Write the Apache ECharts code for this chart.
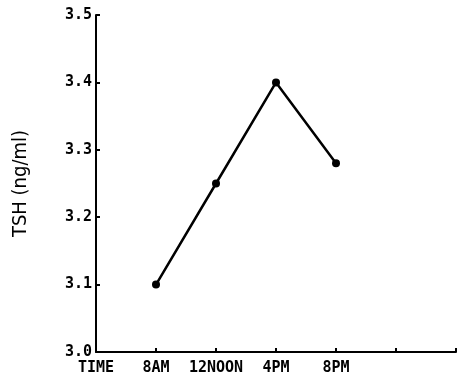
<!DOCTYPE html>
<html>
<head>
<meta charset="utf-8">
<script src="https://cdn.jsdelivr.net/npm/echarts@6/dist/echarts.min.js"></script>
<style>
	html, body { margin: 0; padding: 0; background: #fff; }
	#chart { width: 459px; height: 384px; }
</style>
</head>
<body>
<div id="chart"></div>
<script>
// time points along the x axis (first is the axis title, last two are empty slots)
var timeLabels = ["TIME", "8AM", "12NOON", "4PM", "8PM", "", ""];
// TSH values, "-" = no point
var tshValues = ["-", 3.10, 3.25, 3.40, 3.28, "-", "-"];
var yMin = 3.0;
var yMax = 3.5;
var yStep = 0.1;

var myChart = echarts.init(document.getElementById("chart"));
var labelFont = {
	color: "#000",
	fontFamily: "DejaVu Sans Mono",
	fontWeight: "bold",
	fontSize: 15,
};
var option = {
	animation: false,
	grid: {
		left: 96,
		right: 1,
		top: 15,
		bottom: 32,
	},
	xAxis: {
		type: "category",
		data: timeLabels,
		boundaryGap: false,
		axisLine: {
			lineStyle: { color: "#000", width: 2 },
		},
		axisTick: {
			inside: true,
			length: 4,
			lineStyle: { color: "#000", width: 2 },
		},
		axisLabel: Object.assign({ interval: 0, margin: 9 }, labelFont),
		splitLine: { show: false },
	},
	yAxis: {
		type: "value",
		min: yMin,
		max: yMax,
		interval: yStep,
		name: "TSH (ng/ml)",
		nameLocation: "middle",
		nameRotate: 90,
		nameGap: 65,
		nameTextStyle: {
			color: "#000",
			fontFamily: "DejaVu Sans Condensed",
			fontSize: 20,
		},
		axisLine: {
			show: true,
			lineStyle: { color: "#000", width: 2 },
		},
		axisTick: {
			show: true,
			inside: true,
			length: 4,
			lineStyle: { color: "#000", width: 2 },
		},
		axisLabel: Object.assign({
			margin: 4,
			formatter: function (v) {
				return v.toFixed(1);
			},
		}, labelFont),
		splitLine: { show: false },
	},
	series: [
		{
			type: "line",
			data: tshValues,
			symbol: "circle", //实心点
			symbolSize: 8,
			showSymbol: true,
			lineStyle: { color: "#000", width: 2.5 },
			itemStyle: { color: "#000" },
		},
	],
};
myChart.setOption(option);
</script>
</body>
</html>
